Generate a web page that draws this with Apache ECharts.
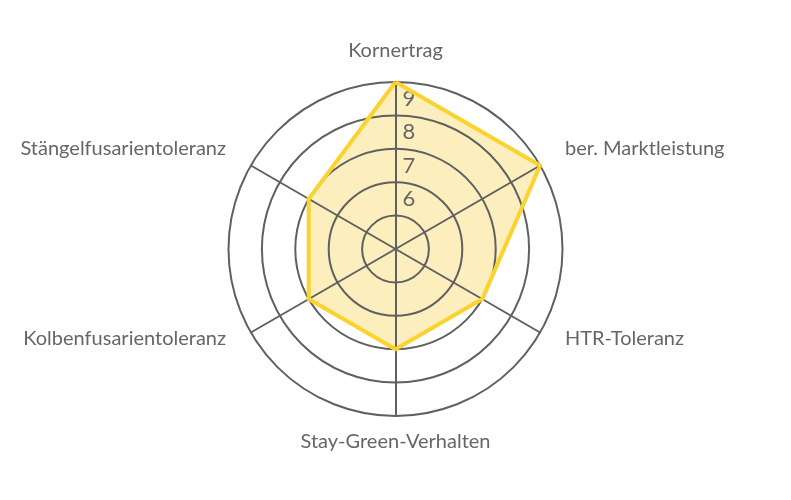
<!DOCTYPE html>
<html lang="de">
<head>
    <meta charset="UTF-8">
    <title>Radar</title>
    <style>
        * { padding: 0; margin: 0; box-sizing: border-box; }
        html, body { width: 100%; height: 100%; overflow: hidden; background: #fff; }
        #box { width: 791px; height: 500px; }
    </style>
</head>
<body>
    <div id="box"></div>
</body>
<script src="https://cdn.jsdelivr.net/npm/echarts@6/dist/echarts.min.js"></script>
<script>
    // indicators go counter-clockwise from the top
    var indicatorNames = ['Kornertrag', 'Stängelfusarientoleranz', 'Kolbenfusarientoleranz',
        'Stay-Green-Verhalten', 'HTR-Toleranz', 'ber. Marktleistung'];
    var scores = [9, 7, 7, 7, 7, 9];
    var scaleMin = 4;
    var scaleMax = 9;
    var shownTicks = [6, 7, 8, 9];

    var box = echarts.init(document.getElementById('box'));

    var indicators = indicatorNames.map(function (n, i) {
        var ind = { name: n, min: scaleMin, max: scaleMax };
        if (i === 0) {
            // only the first axis carries the tick labels, sitting right of it between the rings
            ind.axisLabel = {
                show: true,
                color: '#666',
                fontSize: 22,
                fontFamily: 'Lato',
                margin: -7,
                align: 'left',
                verticalAlign: 'top',
                padding: [6, 0, 0, 0],
                formatter: function (v) {
                    return shownTicks.indexOf(v) >= 0 ? v : '';
                }
            };
        }
        return ind;
    });

    // nudge the names a bit: top one, upper pair, lower pair, bottom one
    var nameStyle = function (pb) {
        return { padding: [0, 11, pb, 11], color: '#666', fontSize: 20, fontFamily: 'Lato' };
    };

    var option = {
        radar: {
            center: ['50%', 249],
            radius: 167,
            shape: 'circle',
            z: 3,
            splitNumber: scaleMax - scaleMin,
            indicator: indicators,
            axisName: {
                color: '#666',
                fontSize: 20,
                fontFamily: 'Lato',
                formatter: function (name) {
                    var i = indicatorNames.indexOf(name);
                    var key = i === 0 ? 'top' : (i === 1 || i === 5) ? 'upper' : i === 3 ? 'bottom' : 'lower';
                    return '{' + key + '|' + name + '}';
                },
                rich: {
                    top: nameStyle(5),
                    upper: nameStyle(18),
                    lower: nameStyle(4),
                    bottom: nameStyle(0)
                }
            },
            nameGap: 16,
            axisLabel: { show: false },
            axisTick: { show: false },
            splitArea: { show: false },
            splitLine: { lineStyle: { color: '#606060', width: 2 } },
            axisLine: { lineStyle: { color: '#606060', width: 2 } }
        },
        series: [{
            // fill sits under the grid
            type: 'radar',
            z: 2,
            symbol: 'none',
            lineStyle: { width: 0 },
            areaStyle: { color: '#fdeebe', opacity: 1 },
            data: [{ value: scores, name: 'Sorte' }]
        }, {
            type: 'radar',
            z: 4,
            symbol: 'none',
            lineStyle: { color: '#fcd22f', width: 4 },
            data: [{ value: scores, name: 'Sorte' }]
        }]
    };
    box.setOption(option);
</script>
</html>
